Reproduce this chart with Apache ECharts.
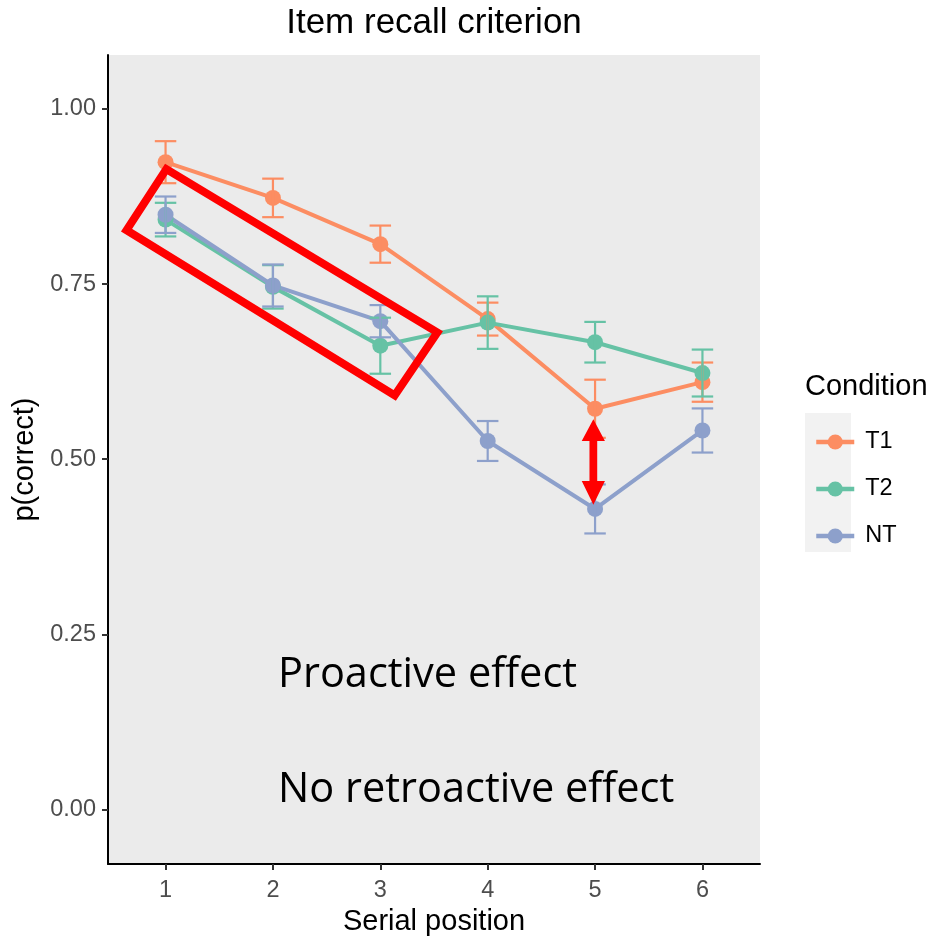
<!DOCTYPE html>
<html>
<head>
<meta charset="utf-8">
<title>Item recall criterion</title>
<script src="https://cdn.jsdelivr.net/npm/echarts@6/dist/echarts.min.js"></script>
<style>
  html, body { margin: 0; padding: 0; background: #ffffff; }
  #chart { width: 935px; height: 941px; }
</style>
</head>
<body>
<div id="chart"></div>
<script>
// Serial positions and condition labels
const positions = [1, 2, 3, 4, 5, 6];
const conditions = ['T1', 'T2', 'NT'];

// Mean proportion correct per serial position
const meanT1 = [0.924, 0.873, 0.807, 0.700, 0.572, 0.610];
const meanT2 = [0.842, 0.746, 0.662, 0.695, 0.667, 0.623];
const meanNT = [0.849, 0.748, 0.697, 0.526, 0.429, 0.541];

// Half-width of the error bars
const errT1 = [0.030, 0.0275, 0.0265, 0.0235, 0.0415, 0.028];
const errT2 = [0.024, 0.031, 0.040, 0.0375, 0.029, 0.0335];
const errNT = [0.026, 0.030, 0.023, 0.0285, 0.035, 0.0315];

// Axis ticks
const yTicks = [0, 0.25, 0.5, 0.75, 1.0];
const xTicks = [1, 2, 3, 4, 5, 6];

// Annotation geometry, in data units
const boxCorners = [[0.637, 0.827], [1.007, 0.914], [3.531, 0.681], [3.134, 0.591]];
const arrowSpec = { x: 4.984, tipTop: 0.557, headTop: 0.526, headBottom: 0.469, tipBottom: 0.435, headHalf: 0.108, shaftHalf: 0.036 };
const notes = [
  { text: 'Proactive effect', x: 2.047, y: 0.192 },
  { text: 'No retroactive effect', x: 2.047, y: 0.028 }
];

const colors = { T1: '#fc8d62', T2: '#66c2a5', NT: '#8da0cb' };
const means = { T1: meanT1, T2: meanT2, NT: meanNT };
const errs = { T1: errT1, T2: errT2, NT: errNT };

const GRID = { left: 108, right: 175, top: 55, bottom: 73 };
const chartW = 935;
const panelCenterX = GRID.left + (chartW - GRID.left - GRID.right) / 2;

const CAP_HALF = 0.1;

function lineSeries(name) {
  return {
    name: name,
    type: 'line',
    data: positions.map((p, i) => [p, means[name][i]]),
    symbol: 'circle',
    symbolSize: 16,
    showSymbol: true,
    lineStyle: { width: 4, color: colors[name] },
    itemStyle: { color: colors[name] },
    emphasis: { disabled: true },
    z: 2
  };
}

function errorSeries(name) {
  return {
    name: name + ' error',
    type: 'custom',
    data: positions.map((p, i) => [p, means[name][i], errs[name][i]]),
    renderItem: function (params, api) {
      const x = api.value(0), m = api.value(1), e = api.value(2);
      const top = api.coord([x, m + e]);
      const bot = api.coord([x, m - e]);
      const tl = api.coord([x - CAP_HALF, m + e]);
      const tr = api.coord([x + CAP_HALF, m + e]);
      const bl = api.coord([x - CAP_HALF, m - e]);
      const br = api.coord([x + CAP_HALF, m - e]);
      const st = { stroke: colors[name], lineWidth: 2.2, fill: null };
      return {
        type: 'group',
        children: [
          { type: 'line', shape: { x1: top[0], y1: top[1], x2: bot[0], y2: bot[1] }, style: st },
          { type: 'line', shape: { x1: tl[0], y1: tl[1], x2: tr[0], y2: tr[1] }, style: st },
          { type: 'line', shape: { x1: bl[0], y1: bl[1], x2: br[0], y2: br[1] }, style: st }
        ]
      };
    },
    silent: true,
    z: 3
  };
}

const annotationSeries = {
  name: 'annotations',
  type: 'custom',
  data: [[0], [1], [2], [3]],
  clip: false,
  silent: true,
  z: 5,
  renderItem: function (params, api) {
    const idx = params.dataIndex;
    if (idx === 0) {
      const pts = boxCorners.map(c => api.coord(c));
      return {
        type: 'polygon',
        shape: { points: pts },
        style: { fill: null, stroke: '#ff0000', lineWidth: 8, lineJoin: 'miter' }
      };
    }
    if (idx === 1) {
      const a = arrowSpec;
      const raw = [
        [a.x, a.tipTop],
        [a.x + a.headHalf, a.headTop],
        [a.x + a.shaftHalf, a.headTop],
        [a.x + a.shaftHalf, a.headBottom],
        [a.x + a.headHalf, a.headBottom],
        [a.x, a.tipBottom],
        [a.x - a.headHalf, a.headBottom],
        [a.x - a.shaftHalf, a.headBottom],
        [a.x - a.shaftHalf, a.headTop],
        [a.x - a.headHalf, a.headTop]
      ];
      return {
        type: 'polygon',
        shape: { points: raw.map(c => api.coord(c)) },
        style: { fill: '#ff0000', stroke: null }
      };
    }
    const n = notes[idx - 2];
    const p = api.coord([n.x, n.y]);
    return {
      type: 'text',
      x: p[0],
      y: p[1],
      style: {
        text: n.text,
        fill: '#000000',
        font: '41.5px "Open Sans"',
        align: 'left',
        verticalAlign: 'middle'
      }
    };
  }
};

const chart = echarts.init(document.getElementById('chart'), null, { renderer: 'canvas' });

const option = {
  animation: false,
  backgroundColor: '#ffffff',
  textStyle: { fontFamily: '"Liberation Sans", Arial, sans-serif' },
  grid: {
    left: GRID.left, right: GRID.right, top: GRID.top, bottom: GRID.bottom,
    show: true, backgroundColor: '#ebebeb', borderWidth: 0
  },
  legend: {
    orient: 'vertical',
    left: 809,
    top: 425,
    data: conditions,
    itemWidth: 38,
    itemHeight: 19,
    itemGap: 23,
    selectedMode: false,
    lineStyle: { width: 4.5 },
    textStyle: {
      fontSize: 23.5, color: '#000000', lineHeight: 24,
      fontFamily: '"Liberation Sans", Arial, sans-serif',
      padding: [0, 0, 0, 6]
    }
  },
  graphic: [
    {
      type: 'rect', left: 805, top: 413, z: -1,
      shape: { width: 46, height: 139 },
      style: { fill: '#f2f2f2' }
    },
    {
      type: 'text', x: 805, y: 387,
      style: {
        text: 'Condition', fill: '#000000',
        font: '29px "Liberation Sans", Arial, sans-serif',
        align: 'left', verticalAlign: 'middle'
      }
    },
    {
      type: 'text', x: panelCenterX, y: 23,
      style: {
        text: 'Item recall criterion', fill: '#000000',
        font: '35px "Liberation Sans", Arial, sans-serif',
        align: 'center', verticalAlign: 'middle'
      }
    }
  ],
  xAxis: {
    type: 'value',
    min: 0.464,
    max: 6.536,
    name: 'Serial position',
    nameLocation: 'middle',
    nameGap: 41,
    nameTextStyle: { fontSize: 29, color: '#000000', fontFamily: '"Liberation Sans", Arial, sans-serif' },
    splitLine: { show: false },
    axisLine: { show: true, onZero: false, lineStyle: { color: '#000000', width: 2 } },
    axisTick: { show: true, length: 6, lineStyle: { color: '#333333', width: 2 }, customValues: xTicks },
    axisLabel: {
      fontSize: 23.5, color: '#4d4d4d', margin: 14, customValues: xTicks,
      formatter: v => String(v)
    }
  },
  yAxis: {
    type: 'value',
    min: -0.078,
    max: 1.077,
    name: 'p(correct)',
    nameLocation: 'middle',
    nameGap: 66,
    nameTextStyle: { fontSize: 29, color: '#000000', fontFamily: '"Liberation Sans", Arial, sans-serif' },
    splitLine: { show: false },
    axisLine: { show: true, onZero: false, lineStyle: { color: '#000000', width: 2 } },
    axisTick: { show: true, length: 6, lineStyle: { color: '#333333', width: 2 }, customValues: yTicks },
    axisLabel: {
      fontSize: 23.5, color: '#4d4d4d', margin: 12, customValues: yTicks,
      formatter: v => v.toFixed(2)
    }
  },
  series: [
    lineSeries('T1'),
    lineSeries('T2'),
    lineSeries('NT'),
    errorSeries('T1'),
    errorSeries('T2'),
    errorSeries('NT'),
    annotationSeries
  ]
};

chart.setOption(option);
</script>
</body>
</html>
